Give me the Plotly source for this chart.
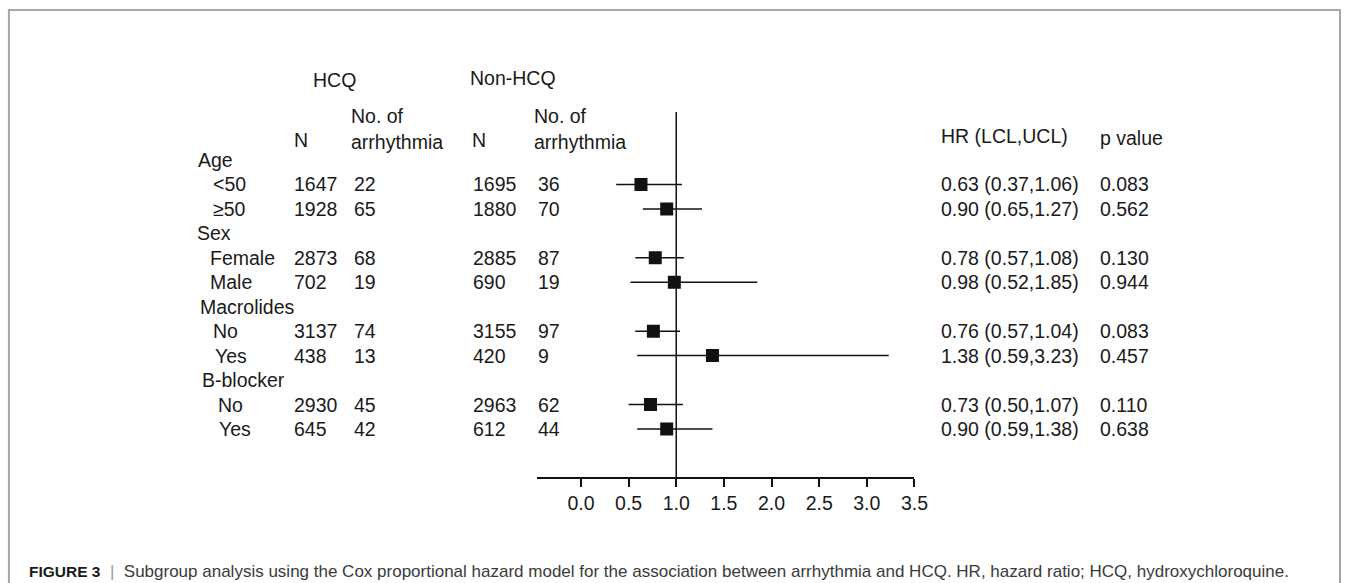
import plotly.graph_objects as go

W, H = 1357, 583

# ---------------- data ----------------
row_labels = ["Age", "<50", "≥50", "Sex", "Female", "Male",
              "Macrolides", "No", "Yes", "B-blocker", "No", "Yes"]
group_rows = [0, 3, 6, 9]
sub_rows = [1, 2, 4, 5, 7, 8, 10, 11]

hcq_n = [1647, 1928, 2873, 702, 3137, 438, 2930, 645]
hcq_events = [22, 65, 68, 19, 74, 13, 45, 42]
non_n = [1695, 1880, 2885, 690, 3155, 420, 2963, 612]
non_events = [36, 70, 87, 19, 97, 9, 62, 44]
hr = [0.63, 0.90, 0.78, 0.98, 0.76, 1.38, 0.73, 0.90]
lcl = [0.37, 0.65, 0.57, 0.52, 0.57, 0.59, 0.50, 0.59]
ucl = [1.06, 1.27, 1.08, 1.85, 1.04, 3.23, 1.07, 1.38]
p_values = [0.083, 0.562, 0.130, 0.944, 0.083, 0.457, 0.110, 0.638]

tick_vals = [0.0, 0.5, 1.0, 1.5, 2.0, 2.5, 3.0, 3.5]

caption_bold = "FIGURE 3"
caption_text = ("Subgroup analysis using the Cox proportional hazard "
                "model for the association between arrhythmia and HCQ. HR, hazard ratio; "
                "HCQ, hydroxychloroquine.")

# ---------------- layout helpers ----------------
def px(x):
    return x / W

def py(y):
    return 1 - y / H

FONT = "Arial, Liberation Sans, Helvetica, sans-serif"
FS = 19.5
TXT = "#1a1a1a"

# label x positions (pixels)
group_x = {0: 198, 3: 197, 6: 200, 9: 202}
sub_x = [213, 213, 210, 210, 213, 215, 218, 219]
col_x = {"hcq_n": 295, "hcq_e": 356, "non_n": 476, "non_e": 542,
         "hr": 949, "p": 1109}

row_top_px, row_step = 160.0, 24.45
axis_y_px, vline_top_px = 477.0, 112.0
y_lo = (axis_y_px - row_top_px) / row_step
y_hi = (vline_top_px - row_top_px) / row_step

fig = go.Figure()

fig.add_trace(go.Scatter(
    x=hr, y=sub_rows, mode="markers",
    marker=dict(symbol="square", size=13, color="#111111"),
    error_x=dict(type="data", symmetric=False,
                 array=[u - h for u, h in zip(ucl, hr)],
                 arrayminus=[h - l for h, l in zip(hr, lcl)],
                 thickness=1.5, width=0, color="#111111"),
    showlegend=False, hoverinfo="skip"))

ann = []

def add_text(text, x, y, yref="y", size=FS, color=TXT, xanchor="left"):
    ann.append(dict(text=text, x=x, y=y, xref="paper", yref=yref,
                    xanchor=xanchor, yanchor="middle", showarrow=False,
                    font=dict(family=FONT, size=size, color=color)))

for r in group_rows:
    add_text(row_labels[r], px(group_x[r]), r)
for i, r in enumerate(sub_rows):
    add_text(row_labels[r], px(sub_x[i]), r)
    add_text(str(hcq_n[i]), px(col_x["hcq_n"]), r)
    add_text(str(hcq_events[i]), px(col_x["hcq_e"]), r)
    add_text(str(non_n[i]), px(col_x["non_n"]), r)
    add_text(str(non_events[i]), px(col_x["non_e"]), r)
    add_text(f"{hr[i]:.2f} ({lcl[i]:.2f},{ucl[i]:.2f})", px(col_x["hr"]), r)
    add_text(f"{p_values[i]:.3f}", px(col_x["p"]), r)

# headers
add_text("HCQ", px(338), py(80), yref="paper", xanchor="center")
add_text("Non-HCQ", px(518), py(78), yref="paper", xanchor="center")
add_text("N", px(295), py(140), yref="paper")
add_text("No. of", px(353), py(116), yref="paper")
add_text("arrhythmia", px(353), py(142), yref="paper")
add_text("N", px(475), py(140), yref="paper")
add_text("No. of", px(538), py(116), yref="paper")
add_text("arrhythmia", px(538), py(142), yref="paper")
add_text("HR (LCL,UCL)", px(949), py(136), yref="paper")
add_text("p value", px(1109), py(138), yref="paper")

# caption
caption = (f"<span style='font-size:15.5px;color:#1a1a1a'><b>{caption_bold}</b></span>"
           f"  <span style='color:#999999'>|</span>  {caption_text}")
add_text(caption, px(27), py(571), yref="paper", size=17, color="#3a3a3a")

shapes = [
    dict(type="line", xref="x", yref="y domain", x0=1, x1=1, y0=0, y1=1,
         line=dict(color="#111111", width=1.5)),
    dict(type="path", xref="paper", yref="paper",
         path=f"M {px(9)},{py(583)} L {px(9)},{py(10)} L {px(1354)},{py(10)} L {px(1354)},{py(583)}",
         line=dict(color="#a6a6a6", width=2)),
]

fig.update_layout(
    width=W, height=H, margin=dict(l=0, r=0, t=0, b=0),
    paper_bgcolor="white", plot_bgcolor="white",
    annotations=ann, shapes=shapes,
    xaxis=dict(domain=[px(543), px(924)], range=[(543 - 587) / 96.29, 3.5],
               showline=True, linecolor="#111111", linewidth=1.5,
               ticks="outside", ticklen=8, tickwidth=1.5, tickcolor="#111111",
               tickvals=tick_vals, tickformat=".1f",
               tickfont=dict(family=FONT, size=FS, color=TXT),
               showgrid=False, zeroline=False, fixedrange=True),
    yaxis=dict(domain=[py(axis_y_px), py(vline_top_px)], range=[y_lo, y_hi],
               visible=False, showgrid=False, zeroline=False, fixedrange=True),
)

fig.write_html("out.html")
